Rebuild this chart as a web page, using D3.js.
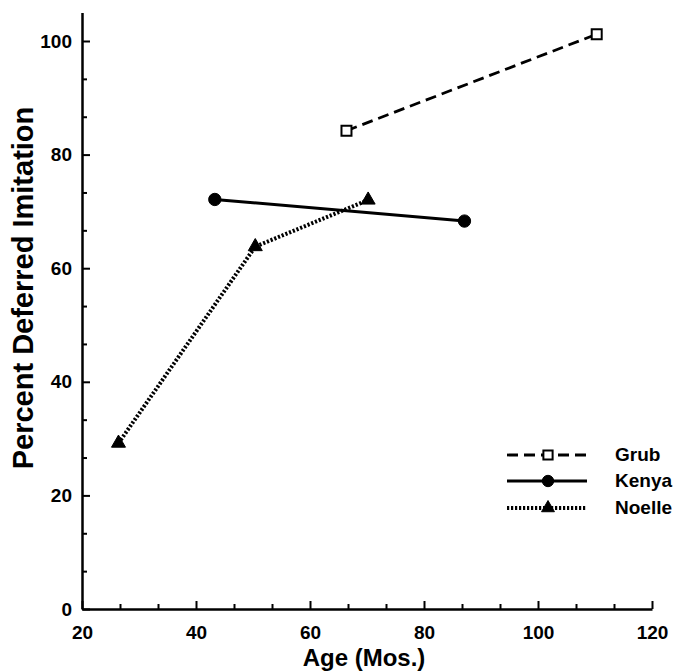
<!DOCTYPE html>
<html>
<head>
<meta charset="utf-8">
<script src="https://cdn.jsdelivr.net/npm/d3@7"></script>
<style>
  body { margin: 0; background: #fff; }
  text { font-family: "Liberation Sans", Arial, Helvetica, sans-serif; font-weight: bold; fill: #000; }
</style>
</head>
<body>
<svg id="chart" width="677" height="671"></svg>
<script>
// data
const seriesNames = ["Grub", "Kenya", "Noelle"];
const grubAge = [66.4, 110.3];
const grubPct = [84.2, 101.2];
const kenyaAge = [43.3, 87.1];
const kenyaPct = [72.1, 68.3];
const noelleAge = [26.4, 50.4, 70.2];
const noellePct = [29.2, 63.8, 72.0];

const xMajor = [20, 40, 60, 80, 100, 120];
const yMajor = [0, 20, 40, 60, 80, 100];

const svg = d3.select("#chart");

// ! SCALES
const x = d3.scaleLinear().domain([20, 120]).range([82, 652]);
const y = d3.scaleLinear().domain([0, 105]).range([609, 12.6]);

const xMinor = d3.range(20, 120.01, 20 / 3).filter(v => Math.abs(v - Math.round(v / 20) * 20) > 0.1);
const yMinor = d3.range(0, 105, 20 / 3).filter(v => Math.abs(v - Math.round(v / 20) * 20) > 0.1);

// ! AXES
const gx = svg.append("g").attr("transform", `translate(0,${y(0)})`);
gx.call(d3.axisBottom(x).tickValues(xMajor).tickSizeInner(-8).tickSizeOuter(0).tickPadding(17).tickFormat(d3.format("d")));
gx.append("g").call(d3.axisBottom(x).tickValues(xMinor).tickSizeInner(-5).tickSizeOuter(0).tickFormat(""))
  .select(".domain").remove();

const gy = svg.append("g").attr("transform", `translate(${x(20)},0)`);
gy.call(d3.axisLeft(y).tickValues(yMajor).tickSizeInner(-8).tickSizeOuter(0).tickPadding(10).tickFormat(d3.format("d")));
gy.append("g").call(d3.axisLeft(y).tickValues(yMinor).tickSizeInner(-5).tickSizeOuter(0).tickFormat(""))
  .select(".domain").remove();

svg.selectAll(".domain").attr("stroke", "#000").attr("stroke-width", 2.5);
svg.selectAll(".tick line").attr("stroke", "#000").attr("stroke-width", 2);
svg.selectAll(".tick text").style("font-size", "19px").attr("fill", "#000");

// axis titles
svg.append("text").attr("x", 364).attr("y", 666).attr("text-anchor", "middle")
  .style("font-size", "24px").text("Age (Mos.)");
svg.append("text").attr("transform", "translate(33,288) rotate(-90)").attr("text-anchor", "middle")
  .style("font-size", "29px").text("Percent Deferred Imitation");

// ! SERIES
const styles = {
  Grub:   { dash: "11,6", width: 2.8, symbol: d3.symbolSquare, size: 100, fill: "#fff" },
  Kenya:  { dash: null,   width: 3,   symbol: d3.symbolCircle, size: 120, fill: "#000" },
  Noelle: { dash: "2.2,1.8", width: 4, symbol: d3.symbolTriangle, size: 85, fill: "#000" }
};
const series = [
  { name: "Grub", pts: d3.zip(grubAge, grubPct) },
  { name: "Kenya", pts: d3.zip(kenyaAge, kenyaPct) },
  { name: "Noelle", pts: d3.zip(noelleAge, noellePct) }
];

const line = d3.line().x(d => x(d[0])).y(d => y(d[1]));

series.forEach(s => {
  const st = styles[s.name];
  svg.append("path").datum(s.pts).attr("d", line)
    .attr("fill", "none").attr("stroke", "#000").attr("stroke-width", st.width)
    .attr("stroke-dasharray", st.dash);
  svg.selectAll(null).data(s.pts).enter().append("path")
    .attr("transform", d => `translate(${x(d[0])},${y(d[1])})`)
    .attr("d", d3.symbol().type(st.symbol).size(st.size))
    .attr("fill", st.fill).attr("stroke", "#000").attr("stroke-width", st.fill === "#fff" ? 2 : 1);
});

// ! LEGEND
const legendY = [455, 481, 508];
seriesNames.forEach((name, i) => {
  const st = styles[name];
  const g = svg.append("g").attr("transform", `translate(0,${legendY[i]})`);
  g.append("line").attr("x1", 507).attr("x2", 587).attr("y1", 0).attr("y2", 0)
    .attr("stroke", "#000").attr("stroke-width", st.width).attr("stroke-dasharray", st.dash);
  g.append("path").attr("transform", "translate(548,0)")
    .attr("d", d3.symbol().type(st.symbol).size(st.size * 0.85))
    .attr("fill", st.fill).attr("stroke", "#000").attr("stroke-width", st.fill === "#fff" ? 2 : 1);
  g.append("text").attr("x", 615).attr("y", 6).style("font-size", "19px").text(name);
});
</script>
</body>
</html>
